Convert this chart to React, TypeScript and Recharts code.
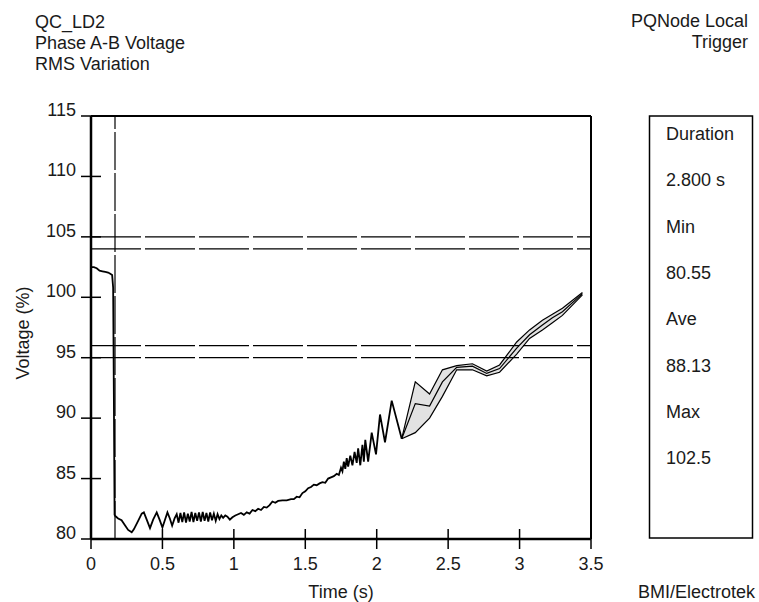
import React from 'react';
import {
  ComposedChart,
  Line,
  Area,
  XAxis,
  YAxis,
  ReferenceLine,
} from 'recharts';

// RMS trace, [time (s), voltage (%)]
const preSag: [number, number][] = [
  [0.0, 102.5], [0.02, 102.5], [0.04, 102.4], [0.06, 102.2], [0.08, 102.15],
  [0.1, 102.1], [0.12, 102.05], [0.135, 101.95], [0.148, 101.85], [0.155, 100.8],
  [0.16, 92.0], [0.165, 82.0],
];

const sagFloor: [number, number][] = [
  [0.17, 81.9], [0.19, 81.7], [0.214, 81.55], [0.24, 81.1], [0.26, 80.75],
  [0.285, 80.55], [0.3, 80.8], [0.33, 81.5], [0.355, 82.1], [0.37, 82.2],
  [0.39, 81.6], [0.413, 80.9], [0.435, 81.6], [0.46, 82.2], [0.48, 81.6],
  [0.5, 80.95], [0.518, 81.6], [0.535, 82.2], [0.552, 81.7], [0.568, 81.1],
  [0.585, 81.7], [0.6, 82.05], [0.613, 81.35], [0.626, 82.15], [0.639, 81.4],
  [0.652, 82.2], [0.665, 81.35], [0.678, 82.1], [0.691, 81.45], [0.704, 82.25],
  [0.717, 81.4], [0.73, 82.15], [0.743, 81.5], [0.756, 82.2], [0.769, 81.45],
  [0.782, 82.25], [0.795, 81.5], [0.808, 82.15], [0.821, 81.45], [0.834, 82.2],
  [0.847, 81.55], [0.86, 82.1], [0.873, 81.5], [0.886, 82.05], [0.899, 81.65],
  [0.912, 81.95], [0.925, 81.75], [0.94, 81.95], [0.955, 81.85], [0.972, 81.6],
  [0.99, 81.8], [1.01, 81.95], [1.03, 82.05],
];

const recovery: [number, number][] = [
  [1.05, 82.15], [1.07, 82.0], [1.09, 82.2], [1.11, 82.1], [1.13, 82.4],
  [1.15, 82.3], [1.17, 82.5], [1.19, 82.4], [1.21, 82.65], [1.23, 82.6],
  [1.25, 82.8], [1.27, 83.1], [1.29, 83.0], [1.31, 83.15], [1.34, 83.2],
  [1.37, 83.2], [1.4, 83.3], [1.42, 83.3], [1.44, 83.5], [1.46, 83.45],
  [1.48, 83.8], [1.5, 83.95], [1.52, 84.2], [1.54, 84.3], [1.56, 84.5],
  [1.58, 84.45], [1.6, 84.6], [1.62, 84.7], [1.64, 84.65], [1.66, 85.0],
  [1.68, 85.1], [1.7, 85.2], [1.72, 85.4], [1.735, 85.3], [1.75, 85.9],
  [1.76, 85.6], [1.77, 86.4], [1.78, 85.8], [1.79, 86.7], [1.8, 86.0],
  [1.815, 86.9], [1.83, 86.1], [1.845, 87.2], [1.86, 86.3], [1.87, 87.5],
  [1.885, 86.1], [1.9, 87.8], [1.91, 86.4], [1.92, 88.2], [1.94, 86.4],
  [1.965, 88.8], [1.995, 87.0], [2.023, 90.3], [2.058, 88.0], [2.105, 91.45],
  [2.175, 88.3],
];

// min / ave / max envelope after 2.17 s
const bandTime = [2.175, 2.27, 2.37, 2.46, 2.56, 2.67, 2.77, 2.86, 2.98, 3.07, 3.16, 3.23, 3.3, 3.44];
const bandUpper = [88.3, 93.0, 92.0, 94.0, 94.35, 94.5, 93.9, 94.4, 96.3, 97.3, 98.1, 98.6, 99.1, 100.4];
const bandMid = [88.3, 91.2, 91.0, 93.0, 94.2, 94.3, 93.7, 94.1, 95.8, 96.9, 97.7, 98.3, 98.8, 100.3];
const bandLower = [88.3, 88.8, 90.0, 91.8, 94.0, 94.0, 93.5, 93.8, 95.3, 96.6, 97.3, 97.9, 98.5, 100.2];

const xTicks = [0, 0.5, 1, 1.5, 2, 2.5, 3, 3.5];
const yTicks = [80, 85, 90, 95, 100, 105, 110, 115];
const limitLines = [105, 104, 96, 95];
const triggerTime = 0.168;

const statLabels = ['Duration', '2.800 s', 'Min', '80.55', 'Ave', '88.13', 'Max', '102.5'];

const trace = [...preSag, ...sagFloor, ...recovery].map(([t, v]) => ({ t, v }));
const band = bandTime.map((t, i) => ({
  t,
  hi: bandUpper[i],
  mid: bandMid[i],
  lo: bandLower[i],
}));

const FONT = '"Liberation Sans", Arial, Helvetica, sans-serif';
const INK = '#1a1a1a';

const XTick = (props: any) => {
  const { x, y, payload } = props;
  return (
    <g>
      <line x1={x} x2={x} y1={y - 10} y2={y + 10} stroke="#000" strokeWidth={1.5} />
      <text x={x} y={y + 31} textAnchor="middle" fontSize={18} fontFamily={FONT} fill={INK}>
        {payload.value}
      </text>
    </g>
  );
};

const YTick = (props: any) => {
  const { x, y, payload } = props;
  return (
    <g>
      <line x1={x - 10} x2={x + 10} y1={y} y2={y} stroke="#000" strokeWidth={1.5} />
      <text x={x - 15} y={y} textAnchor="end" fontSize={18} fontFamily={FONT} fill={INK}>
        {payload.value}
      </text>
    </g>
  );
};

export default function App() {
  return (
    <div style={{ position: 'absolute', left: 0, top: 0, width: 759, height: 602, background: '#fff' }}>
      <ComposedChart
        width={759}
        height={602}
        margin={{ top: 116, right: 168, bottom: 23, left: 31 }}
      >
        <XAxis
          type="number"
          dataKey="t"
          domain={[0, 3.5]}
          ticks={xTicks}
          interval={0}
          height={40}
          tickSize={0}
          tickMargin={0}
          tickLine={false}
          tick={<XTick />}
          axisLine={{ stroke: '#000', strokeWidth: 2.5 }}
          allowDataOverflow
        />
        <YAxis
          type="number"
          domain={[80, 115]}
          ticks={yTicks}
          interval={0}
          width={60}
          tickSize={0}
          tickMargin={0}
          tickLine={false}
          tick={<YTick />}
          axisLine={{ stroke: '#000', strokeWidth: 2.5 }}
          allowDataOverflow
        />
        <ReferenceLine y={115} stroke="#000" strokeWidth={2} />
        <ReferenceLine x={3.5} stroke="#000" strokeWidth={2} />
        {limitLines.map((v) => (
          <ReferenceLine key={v} y={v} stroke="#000" strokeWidth={1.3} strokeDasharray="50 4" />
        ))}
        <ReferenceLine x={triggerTime} stroke="#000" strokeWidth={1.2} strokeDasharray="38 3" />
        <Area
          data={band}
          dataKey={(d: any) => [d.lo, d.hi]}
          type="linear"
          stroke="none"
          fill="#e2e2e2"
          fillOpacity={1}
          isAnimationActive={false}
        />
        <Line data={band} dataKey="hi" type="linear" stroke="#000" strokeWidth={1.2} dot={false} isAnimationActive={false} />
        <Line data={band} dataKey="mid" type="linear" stroke="#000" strokeWidth={1.2} dot={false} isAnimationActive={false} />
        <Line data={band} dataKey="lo" type="linear" stroke="#000" strokeWidth={1.2} dot={false} isAnimationActive={false} />
        <Line data={trace} dataKey="v" type="linear" stroke="#000" strokeWidth={1.8} dot={false} isAnimationActive={false} />
      </ComposedChart>

      <svg
        width={759}
        height={602}
        style={{ position: 'absolute', left: 0, top: 0, pointerEvents: 'none' }}
        fontFamily={FONT}
        fontSize={18}
        fill={INK}
      >
        <text x={35} y={28}>QC_LD2</text>
        <text x={35} y={49}>Phase A-B Voltage</text>
        <text x={35} y={70}>RMS Variation</text>
        <text x={748} y={27} textAnchor="end">PQNode Local</text>
        <text x={748} y={48} textAnchor="end">Trigger</text>
        <text transform="translate(29,333) rotate(-90)" textAnchor="middle">Voltage (%)</text>
        <text x={341} y={598} textAnchor="middle">Time (s)</text>
        <text x={755} y={598} textAnchor="end">BMI/Electrotek</text>
        <rect x={649.5} y={116} width={103} height={422} fill="none" stroke="#000" strokeWidth={1.5} />
        {statLabels.map((s, i) => (
          <text key={s} x={666} y={140 + i * 46.3}>{s}</text>
        ))}
      </svg>
    </div>
  );
}
